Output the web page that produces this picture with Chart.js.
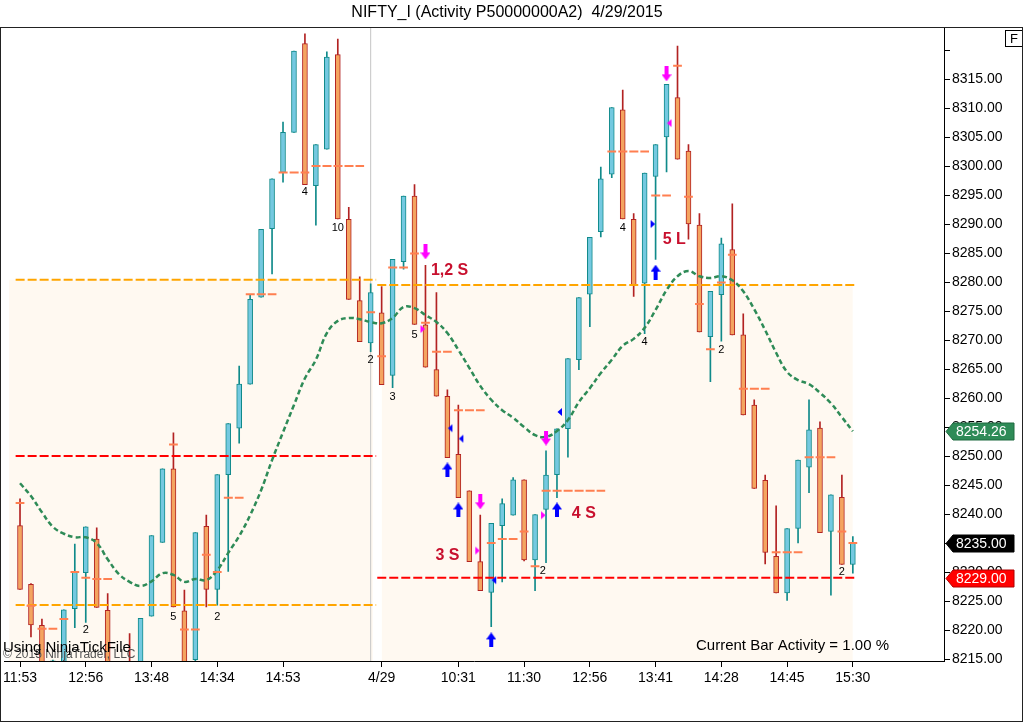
<!DOCTYPE html>
<html>
<head>
<meta charset="utf-8">
<script src="https://cdn.jsdelivr.net/npm/chart.js@4.4.1/dist/chart.umd.min.js"></script>
<style>
  html, body { margin: 0; padding: 0; background: #fff; overflow: hidden; }
</style>
</head>
<body>
<canvas id="chart" width="1024" height="723"></canvas>
<script>
// ---- data (bar index 0..76, two sessions) ----
const opens = [8238.0, 8227.9, 8220.8, 8211.0, 8212.0, 8223.7, 8229.9, 8235.7, 8223.4, 8213.0,
  8213.5, 8210.0, 8222.4, 8235.1, 8247.8, 8223.3, 8214.9, 8237.9, 8227.0, 8246.8,
  8254.8, 8262.4, 8277.4, 8289.2, 8298.9, 8305.8, 8321.1, 8296.6, 8302.9, 8319.2,
  8290.8, 8276.8, 8269.5, 8274.7, 8263.9, 8283.5, 8294.8, 8272.6, 8264.9, 8260.3,
  8250.3, 8244.0, 8231.8, 8226.5, 8238.0, 8239.8, 8245.9, 8232.1, 8240.8, 8246.8,
  8254.7, 8266.6, 8277.9, 8288.7, 8298.6, 8309.7, 8290.8, 8279.8, 8298.2, 8305.0,
  8311.8, 8302.6, 8289.8, 8270.6, 8277.8, 8285.6, 8270.9, 8258.8, 8245.8, 8232.7,
  8226.4, 8237.5, 8248.1, 8254.8, 8237.0, 8242.9, 8231.3];
const highs = [8242.6, 8228.0, 8221.9, 8214.8, 8223.5, 8234.8, 8237.8, 8237.6, 8226.3, 8214.0,
  8219.4, 8222.0, 8236.3, 8247.8, 8254.0, 8226.9, 8236.8, 8239.8, 8246.8, 8255.6,
  8265.5, 8277.8, 8289.1, 8297.8, 8307.6, 8319.8, 8322.8, 8303.7, 8319.7, 8321.9,
  8292.9, 8280.9, 8279.7, 8279.2, 8283.9, 8294.8, 8296.8, 8282.9, 8278.2, 8261.4,
  8258.8, 8244.0, 8239.8, 8238.4, 8242.6, 8246.3, 8245.9, 8239.9, 8250.9, 8254.7,
  8266.8, 8277.3, 8287.7, 8299.8, 8310.1, 8313.1, 8291.8, 8298.8, 8303.7, 8314.1,
  8320.7, 8303.7, 8291.8, 8278.4, 8287.6, 8293.5, 8274.5, 8259.7, 8246.7, 8241.4,
  8237.5, 8249.3, 8259.7, 8255.9, 8243.3, 8246.7, 8236.1];
const lows = [8227.0, 8218.8, 8211.0, 8209.0, 8210.0, 8220.4, 8221.3, 8223.9, 8210.0, 8206.0,
  8206.0, 8208.0, 8222.4, 8235.1, 8224.0, 8210.0, 8214.0, 8224.0, 8224.3, 8230.1,
  8252.2, 8262.4, 8277.4, 8281.4, 8297.2, 8305.8, 8296.8, 8289.8, 8302.9, 8290.9,
  8277.0, 8269.7, 8268.0, 8262.3, 8261.8, 8282.2, 8272.7, 8265.3, 8260.3, 8249.7,
  8242.8, 8231.8, 8226.8, 8220.6, 8228.3, 8239.8, 8231.9, 8226.8, 8231.6, 8242.8,
  8249.8, 8264.9, 8272.3, 8287.8, 8298.0, 8290.9, 8277.5, 8271.1, 8283.9, 8299.0,
  8301.2, 8287.4, 8271.4, 8262.8, 8269.8, 8270.9, 8257.1, 8244.4, 8231.4, 8226.4,
  8225.1, 8235.0, 8243.7, 8236.8, 8226.0, 8231.3, 8229.8];
const closes = [8227.0, 8220.9, 8213.0, 8214.7, 8223.5, 8230.0, 8237.8, 8223.9, 8212.0, 8208.0,
  8208.0, 8222.0, 8236.3, 8247.8, 8224.0, 8212.0, 8236.8, 8227.0, 8246.8, 8255.6,
  8262.4, 8277.0, 8289.1, 8297.8, 8305.8, 8319.8, 8296.8, 8303.7, 8318.8, 8290.9,
  8277.0, 8269.7, 8278.2, 8262.3, 8283.9, 8294.8, 8272.7, 8265.3, 8260.3, 8249.7,
  8242.8, 8231.8, 8226.8, 8238.4, 8241.8, 8245.9, 8232.1, 8239.9, 8246.7, 8254.7,
  8266.8, 8277.3, 8287.7, 8297.8, 8310.1, 8290.9, 8279.5, 8298.8, 8303.7, 8314.1,
  8301.2, 8290.0, 8271.4, 8278.4, 8286.6, 8270.9, 8257.1, 8244.4, 8233.4, 8226.4,
  8237.5, 8249.3, 8254.5, 8236.8, 8243.3, 8231.3, 8235.0];

// green dashed moving average
const sma = [8245.3, 8243.1, 8240.3, 8237.8, 8236.6, 8236.0, 8236.0, 8235.0, 8232.2, 8229.7,
  8228.3, 8227.6, 8228.4, 8229.8, 8229.5, 8228.3, 8228.8, 8228.6, 8230.3, 8233.3,
  8236.2, 8239.8, 8244.1, 8249.3, 8254.1, 8258.8, 8263.4, 8266.6, 8271.2, 8273.3,
  8273.8, 8273.6, 8273.1, 8272.9, 8273.8, 8275.7, 8275.5, 8274.3, 8273.1, 8271.2,
  8268.3, 8265.2, 8262.1, 8259.7, 8257.9, 8256.6, 8255.0, 8253.6, 8253.3, 8254.3,
  8256.2, 8259.3, 8261.7, 8264.3, 8266.6, 8269.0, 8270.2, 8272.1, 8275.2, 8278.6,
  8281.0, 8281.9, 8281.0, 8280.7, 8281.0, 8280.3, 8278.4, 8275.3, 8271.7, 8267.8,
  8264.5, 8263.1, 8262.4, 8260.9, 8259.1, 8256.7, 8254.26];

// x axis
const xTickBars = [0, 6, 12, 18, 24, 33, 40, 46, 52, 58, 64, 70, 76];
const xTickLabels = ['11:53', '12:56', '13:48', '14:34', '14:53', '4/29', '10:31', '11:30', '12:56', '13:41', '14:28', '14:45', '15:30'];
const sessionBreak = 32;

// y axis
const yTicks = [8215, 8220, 8225, 8230, 8235, 8240, 8245, 8250, 8255, 8260, 8265, 8270, 8275, 8280,
  8285, 8290, 8295, 8300, 8305, 8310, 8315, 8320];
const yMin = 8214.66, yMax = 8323.8;

// session levels (from bar, to bar, price)
const levelFrom = [-0.4, -0.4, -0.4, 32.6, 32.6];
const levelTo = [32.5, 32.5, 32.5, 76.3, 76.3];
const levelPrice = [8280.4, 8250.0, 8224.3, 8279.5, 8229.0];
const levelKind = ['high', 'mid', 'low', 'high', 'mid'];

// shaded session ranges
const shadeFrom = [-1.0, 33];
const shadeTo = [32.2, 76];
const shadeTop = [8280.4, 8279.5];

// short coral markers (first bar, last bar, price)
const avgStart = [0, 1, 2, 4, 5, 6, 7, 14, 15, 16, 17, 18, 19, 21, 24, 27, 32, 33, 34, 36, 37, 38, 40, 43, 44,
  46, 47, 48, 54, 55, 58, 60, 61, 62, 63, 64, 65, 66, 69, 70, 72, 75, 76];
const avgEnd = [0, 1, 3, 4, 5, 6, 8, 14, 15, 16, 17, 18, 20, 23, 26, 31, 32, 33, 35, 36, 37, 39, 42, 43, 45,
  46, 47, 53, 54, 57, 59, 60, 61, 62, 63, 64, 65, 68, 69, 71, 74, 75, 76];
const avgPrice = [8241.9, 8224.2, 8220.2, 8221.9, 8230.0, 8229.0, 8228.8, 8252.0, 8220.1, 8220.1, 8233.0, 8230.0,
  8242.8, 8277.9, 8298.9, 8300.0, 8274.8, 8267.2, 8282.5, 8284.9, 8273.0, 8268.0, 8257.9, 8235.0, 8235.7,
  8237.0, 8231.0, 8244.0, 8302.5, 8302.5, 8294.9, 8317.3, 8294.7, 8276.2, 8268.4, 8279.9, 8284.7, 8261.6,
  8233.4, 8233.4, 8249.8, 8237.0, 8235.0];

// signal arrows
const upArrowBar = [39, 40, 43, 49, 58];
const upArrowPrice = [8247.6, 8240.7, 8218.3, 8240.7, 8281.7];
const downArrowBar = [37, 42, 48, 59];
const downArrowPrice = [8285.2, 8242.1, 8253.1, 8315.9];

// execution triangles
const buyLeftBar = [39, 40, 43, 49];
const buyLeftPrice = [8254.8, 8253.0, 8228.6, 8257.6];
const buyRightBar = [58];
const buyRightPrice = [8290.0];
const sellRightBar = [37, 42, 48];
const sellRightPrice = [8271.9, 8233.7, 8239.8];
const sellLeftBar = [59];
const sellLeftPrice = [8307.4];

// signal names
const signalText = ['1,2 S', '3 S', '4 S', '5 L'];
const signalBar = [39.2, 39.0, 51.45, 59.7];
const signalPrice = [8281.9, 8232.8, 8240.0, 8287.4];

// small count labels under bars
const countText = ['2', '5', '2', '4', '10', '2', '3', '5', '2', '4', '4', '2', '2'];
const countBar = [6, 14, 18, 26, 29, 32, 34, 36, 47.7, 55, 57, 64, 75];
const countPrice = [8220.0, 8222.2, 8222.2, 8295.5, 8289.3, 8266.6, 8260.2, 8270.9, 8230.2, 8289.3, 8269.7, 8268.3, 8230.0];

const titleText = 'NIFTY_I (Activity P50000000A2)  4/29/2015';
const activityText = 'Current Bar Activity = 1.00 %';

// ---- styles ----
const FONT = '"Liberation Sans", Arial, sans-serif';
const bullFill = '#74C9E0', bullLine = '#108A8A';
const bearFill = '#F4A460', bearLine = '#B22222';
const levelColor = { high: '#FFA500', mid: '#FF0000', low: '#FFA500' };

function arrowImage(color, up) {
  const c = document.createElement('canvas');
  c.width = 10; c.height = 15;
  const g = c.getContext('2d');
  g.fillStyle = color;
  if (!up) { g.translate(0, 15); g.scale(1, -1); }
  g.beginPath();
  g.moveTo(0, 7); g.lineTo(5, 0); g.lineTo(10, 7);
  g.closePath(); g.fill();
  g.fillRect(3, 6, 4, 9);
  return c;
}
function triImage(color, pointLeft) {
  const c = document.createElement('canvas');
  c.width = 12; c.height = 10;
  const g = c.getContext('2d');
  g.fillStyle = color;
  g.beginPath();
  if (pointLeft) { g.moveTo(6.5, 5); g.lineTo(11, 1); g.lineTo(11, 9); }
  else { g.moveTo(5.5, 5); g.lineTo(1, 1); g.lineTo(1, 9); }
  g.closePath(); g.fill();
  return c;
}

const pts = (xs, ys) => xs.map((b, i) => ({ x: b, y: ys[i] }));
const isBull = closes.map((c, i) => c >= opens[i]);

const avgData = [];
avgStart.forEach((s, k) => {
  avgData.push({ x: s - 0.4, y: avgPrice[k] }, { x: avgEnd[k] + 0.4, y: avgPrice[k] }, { x: avgEnd[k] + 0.45, y: null });
});

const datasets = [];
shadeFrom.forEach((f, k) => {
  datasets.push({
    type: 'line', order: 20,
    data: [{ x: f, y: shadeTop[k] }, { x: shadeTo[k], y: shadeTop[k] }],
    borderColor: 'transparent', borderWidth: 0, pointRadius: 0,
    backgroundColor: '#FFF9F1', fill: 'start'
  });
});
datasets.push({
  type: 'line', order: 19,
  data: [{ x: sessionBreak, y: yMin }, { x: sessionBreak, y: yMax }],
  borderColor: '#C4C4C4', borderWidth: 1, pointRadius: 0, fill: false
});
datasets.push({
  type: 'bar', order: 15, grouped: false, barThickness: 1,
  data: lows.map((l, i) => ({ x: i, y: [l, highs[i]] })),
  backgroundColor: isBull.map(b => b ? bullLine : bearLine), borderWidth: 0
});
datasets.push({
  type: 'bar', order: 14, grouped: false, barThickness: 5,
  data: opens.map((o, i) => ({ x: i, y: [o, closes[i]] })),
  backgroundColor: isBull.map(b => b ? bullFill : bearFill),
  borderColor: isBull.map(b => b ? bullLine : bearLine),
  borderWidth: 1, borderSkipped: false
});
levelPrice.forEach((p, k) => {
  datasets.push({
    type: 'line', order: 12,
    data: [{ x: levelFrom[k], y: p }, { x: levelTo[k], y: p }],
    borderColor: levelColor[levelKind[k]], borderWidth: 2, borderDash: [9, 3],
    pointRadius: 0, fill: false
  });
});
datasets.push({
  type: 'line', order: 10,
  data: sma.map((v, i) => ({ x: i, y: v })),
  borderColor: '#2E8B57', borderWidth: 2.5, borderDash: [5, 3], tension: 0.4,
  pointRadius: 0, fill: false
});
datasets.push({
  type: 'line', order: 8, spanGaps: false,
  data: avgData,
  borderColor: '#FF7F50', borderWidth: 2, borderDash: [9, 2], pointRadius: 0, fill: false
});
[
  [pts(upArrowBar, upArrowPrice), arrowImage('#0000FF', true)],
  [pts(downArrowBar, downArrowPrice), arrowImage('#FF00FF', false)],
  [pts(buyLeftBar, buyLeftPrice), triImage('#0000FF', true)],
  [pts(buyRightBar, buyRightPrice), triImage('#0000FF', false)],
  [pts(sellRightBar, sellRightPrice), triImage('#FF00FF', false)],
  [pts(sellLeftBar, sellLeftPrice), triImage('#FF00FF', true)]
].forEach(([d, img]) => {
  datasets.push({ type: 'scatter', order: 5, data: d, pointStyle: img, pointRadius: 5, showLine: false });
});

const overlay = {
  id: 'overlay',
  afterDraw(chart) {
    const { ctx, scales: { x, y } } = chart;
    ctx.save();
    ctx.textBaseline = 'middle';

    // counts under bars
    ctx.fillStyle = '#000';
    ctx.font = '11px ' + FONT;
    ctx.textAlign = 'center';
    countText.forEach((t, k) => ctx.fillText(t, x.getPixelForValue(countBar[k]), y.getPixelForValue(countPrice[k])));

    // signal names
    ctx.fillStyle = '#C8102E';
    ctx.font = 'bold 16px ' + FONT;
    signalText.forEach((t, k) => ctx.fillText(t, x.getPixelForValue(signalBar[k]), y.getPixelForValue(signalPrice[k])));

    // price tags on the axis
    const tags = [[sma[sma.length - 1], '#2E8B57', '#1E6B40'], [closes[closes.length - 1], '#000000', '#000000'], [levelPrice[4], '#FF0000', '#B00000']];
    ctx.font = '14px ' + FONT;
    ctx.textAlign = 'left';
    tags.forEach(([v, fill, edge]) => {
      const py = Math.round(y.getPixelForValue(v)) + 0.5;
      const x0 = chart.chartArea.right + 2;
      ctx.beginPath();
      ctx.moveTo(x0, py);
      ctx.lineTo(x0 + 7, py - 8.5);
      ctx.lineTo(x0 + 68, py - 8.5);
      ctx.lineTo(x0 + 68, py + 8.5);
      ctx.lineTo(x0 + 7, py + 8.5);
      ctx.closePath();
      ctx.fillStyle = fill; ctx.fill();
      ctx.strokeStyle = edge; ctx.lineWidth = 1; ctx.stroke();
      ctx.fillStyle = '#fff';
      ctx.fillText(v.toFixed(2), x0 + 10, py + 0.5);
    });

    // title
    ctx.fillStyle = '#000';
    ctx.textAlign = 'center';
    ctx.font = '16px ' + FONT;
    ctx.fillText(titleText, 507, 13);

    // F box
    ctx.strokeStyle = '#000';
    ctx.lineWidth = 1;
    ctx.strokeRect(1005.5, 30.5, 17, 16);
    ctx.font = '13px ' + FONT;
    ctx.fillText('F', 1014, 39);

    // footer texts
    ctx.textAlign = 'left';
    ctx.font = '15px ' + FONT;
    ctx.fillText(activityText, 696, 646);
    ctx.fillStyle = '#555';
    ctx.font = '12px ' + FONT;
    ctx.fillText('\u00A9 2015 NinjaTrader, LLC', 3, 655);
    ctx.fillStyle = '#000';
    ctx.font = '15px ' + FONT;
    ctx.fillText('Using NinjaTickFile', 3, 648);

    // outer frame
    ctx.strokeStyle = '#222';
    ctx.strokeRect(0.5, 27.5, 1022, 694);
    ctx.restore();
  }
};

new Chart(document.getElementById('chart'), {
  type: 'line',
  data: { datasets },
  options: {
    responsive: false,
    animation: false,
    devicePixelRatio: 1,
    layout: { padding: { top: 28, left: 1, right: 0, bottom: 0 }, autoPadding: false },
    plugins: { legend: { display: false }, title: { display: false }, tooltip: { enabled: false } },
    scales: {
      x: {
        type: 'linear', offset: false,
        min: -15.5 / 11, max: -15.5 / 11 + 943 / 11,
        afterBuildTicks: s => { s.ticks = xTickBars.map(v => ({ value: v })); },
        afterFit: s => { s.height = 62; },
        ticks: {
          autoSkip: false, maxRotation: 0, padding: 3, color: '#000',
          font: { family: FONT, size: 14 },
          callback: v => xTickLabels[xTickBars.indexOf(v)]
        },
        grid: { drawOnChartArea: false, drawTicks: true, tickLength: 6, color: '#000', offset: false },
        border: { display: true, color: '#000' }
      },
      y: {
        type: 'linear', position: 'right', beginAtZero: false,
        min: yMin, max: yMax,
        afterBuildTicks: s => { s.ticks = yTicks.map(v => ({ value: v })); },
        afterFit: s => { s.width = 80; },
        ticks: {
          padding: 2, color: '#000',
          font: { family: FONT, size: 14 },
          callback: v => (v > 8317 ? '' : v.toFixed(2))
        },
        grid: { drawOnChartArea: false, drawTicks: true, tickLength: 6, color: '#000' },
        border: { display: true, color: '#000' }
      }
    }
  },
  plugins: [overlay]
});
</script>
</body>
</html>
